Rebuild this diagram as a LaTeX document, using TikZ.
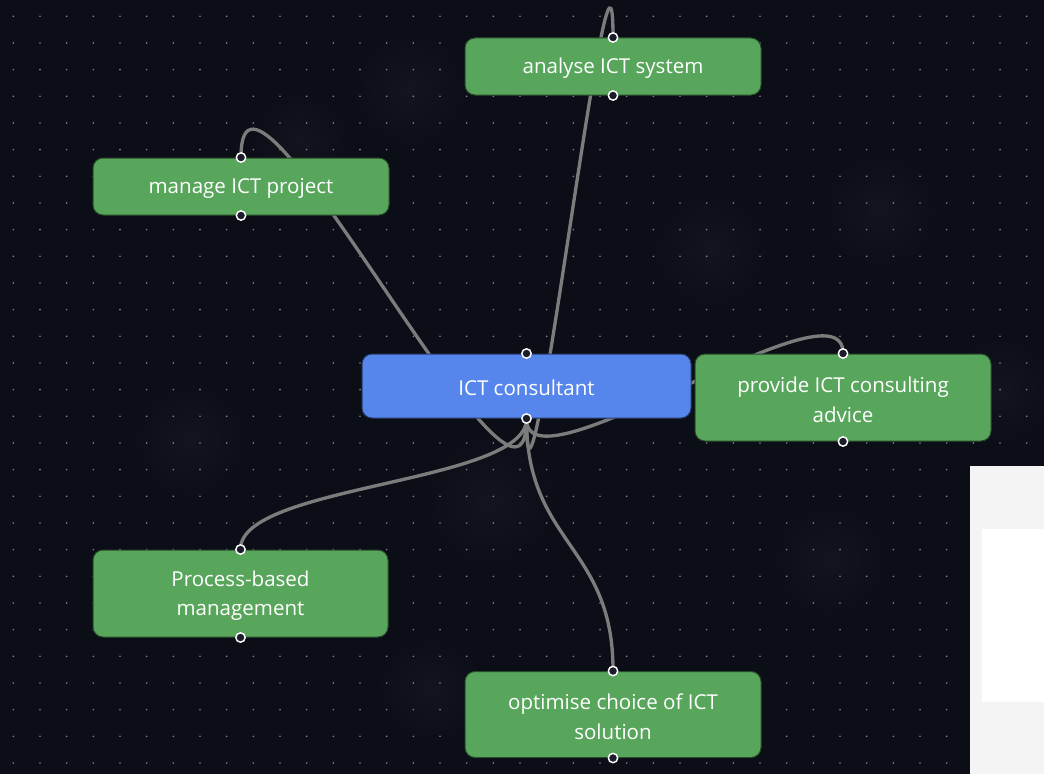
\documentclass[tikz,border=0pt]{standalone}
\usepackage{fontspec}
\setmainfont{Open Sans}
\definecolor{bg}{HTML}{0B0E16}
\definecolor{blob}{HTML}{12151D}
\definecolor{dotc}{HTML}{7D828C}
\definecolor{nodegreen}{HTML}{58A65C}
\definecolor{nodeblue}{HTML}{5686EC}
\definecolor{edgec}{HTML}{7C7C7C}
\definecolor{handlefill}{HTML}{1B1D2A}
\definecolor{panel}{HTML}{F4F4F4}
\tikzset{
  flownode/.style={rectangle, rounded corners=7.5pt, inner sep=0pt,
    draw=black!55!nodegreen, line width=0.75pt},
  txt/.style={text=white, align=center, inner sep=0pt, yshift=-1.6pt,
    font=\fontsize{15.4}{22}\selectfont},
  greennode/.style={flownode, fill=nodegreen},
  bluenode/.style={flownode, fill=nodeblue, draw=black!55!nodeblue},
  edge/.style={draw=edgec, line width=2.5pt},
  handle/.style={circle, draw=white, fill=handlefill, line width=1.1pt,
    minimum size=7pt, inner sep=0pt},
}
\begin{document}
\begin{tikzpicture}[x=0.75pt, y=-0.75pt]
\useasboundingbox (0,0) rectangle (1044,774);
\fill[bg] (0,0) rectangle (1044,774);
% faint background glows
\foreach \bx/\by/\br in {190/440/60, 490/500/70, 710/250/60, 880/210/60, 1000/390/55, 410/90/60, 430/690/55, 300/140/50, 830/560/60}{
  \shade[inner color=blob, outer color=bg] (\bx,\by) circle (\br);
}
% dot grid
\foreach \i in {0,...,39}{
  \foreach \j in {0,...,28}{
    \fill[dotc] ({13.33+26.667*\i},{16.3+26.667*\j}) circle (0.9);
  }
}
% right panel
\fill[panel] (970,466) rectangle (1044,774);
\fill[white] (982,529) rectangle (1044,702);

% node positions (for edges)
\coordinate (consS) at (526.5,419);
\coordinate (anaN) at (613,37);
\coordinate (manN) at (241,157);
\coordinate (proN) at (843,353);
\coordinate (pbmN) at (240.5,549);
\coordinate (optN) at (613,670);

% edges (behind nodes)
\draw[edge] (consS) .. controls +(0,184) and +(0,-184) .. (anaN);
\draw[edge] (consS) .. controls +(0,159) and +(0,-159) .. (manN);
\draw[edge] (consS) .. controls +(0,79) and +(0,-79) .. (proN);
\draw[edge] (consS) .. controls +(0,64.5) and +(0,-64.5) .. (pbmN);
\draw[edge] (consS) .. controls +(0,125) and +(0,-125) .. (optN);

% nodes
\node[greennode, minimum width=222pt, minimum height=42.75pt,
  label={[txt]center:analyse ICT system}] (ana) at (613,66.5) {};
\node[greennode, minimum width=222pt, minimum height=42.75pt,
  label={[txt]center:manage ICT project}] (man) at (241,186.5) {};
\node[bluenode, minimum width=246.75pt, minimum height=48pt,
  label={[txt]center:ICT consultant}] (cons) at (526.5,386) {};
\node[greennode, minimum width=222pt, minimum height=65.25pt,
  label={[txt]center:{provide ICT consulting\\advice}}] (pro) at (843,397.5) {};
\node[greennode, minimum width=221.25pt, minimum height=65.25pt,
  label={[txt]center:{Process-based\\management}}] (pbm) at (240.5,593.5) {};
\node[greennode, minimum width=222pt, minimum height=64.5pt,
  label={[txt]center:{optimise choice of ICT\\solution}}] (opt) at (613,714.5) {};

% handles
\foreach \n in {ana, man, cons, pro, pbm, opt}{
  \node[handle] (\n-top) at (\n.north) {};
  \node[handle] (\n-bot) at (\n.south) {};
}
\end{tikzpicture}
\end{document}
